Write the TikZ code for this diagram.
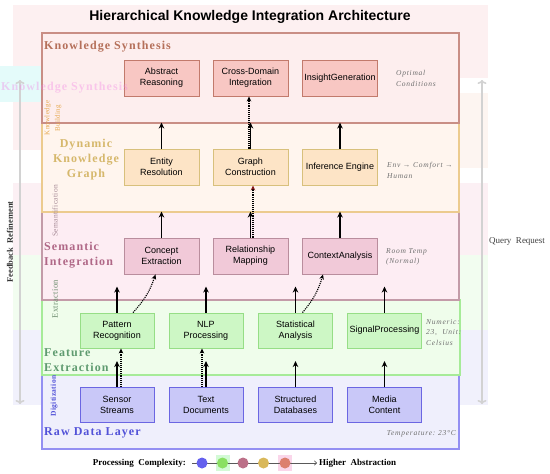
\documentclass[tikz,border=0pt]{standalone}
\usepackage{fontspec}
\setmainfont{Liberation Serif}
\newfontfamily\sansf{Liberation Sans}
\newfontfamily\layerf[LetterSpace=9]{Liberation Serif}
\newfontfamily\notef[LetterSpace=10]{Liberation Serif}
\newfontfamily\sidef[LetterSpace=4]{Liberation Serif}
\usetikzlibrary{arrows.meta,calc}
\definecolor{bandpink}{HTML}{FDF0F1}
\definecolor{bandpeach}{HTML}{FDF5F1}
\definecolor{bandpinkb}{HTML}{FCF0F4}
\definecolor{bandgreen}{HTML}{F2FDF0}
\definecolor{bandlav}{HTML}{F1F1FC}
\definecolor{ghostcyan}{HTML}{E4FBFA}
\definecolor{ghostmag}{HTML}{F27AE4}
\definecolor{ksf}{HTML}{FDEEEE}
\definecolor{ksb}{HTML}{C98E85}
\definecolor{kst}{HTML}{B5705A}
\definecolor{ksnf}{HTML}{F8C7C3}
\definecolor{ksnb}{HTML}{C27A6C}
\definecolor{dkf}{HTML}{FFF5EE}
\definecolor{dkb}{HTML}{ECCB8E}
\definecolor{dkt}{HTML}{D6B86C}
\definecolor{dknf}{HTML}{FDE4C6}
\definecolor{dknb}{HTML}{D8C07C}
\definecolor{sif}{HTML}{FDEDF3}
\definecolor{sib}{HTML}{C39BA8}
\definecolor{sit}{HTML}{B06887}
\definecolor{sinf}{HTML}{F1C9D8}
\definecolor{sinb}{HTML}{B98D9D}
\definecolor{fef}{HTML}{EFFDEB}
\definecolor{feb}{HTML}{A6EB98}
\definecolor{fet}{HTML}{5F9B70}
\definecolor{fenf}{HTML}{CDF7C5}
\definecolor{fenb}{HTML}{96DE86}
\definecolor{rdf}{HTML}{EFEFFC}
\definecolor{rdb}{HTML}{938FF2}
\definecolor{rdt}{HTML}{5252D8}
\definecolor{rdnf}{HTML}{C9C8F8}
\definecolor{rdnb}{HTML}{6B66E2}
\definecolor{kbt}{HTML}{E5A74D}
\definecolor{semt}{HTML}{A68A96}
\definecolor{extt}{HTML}{6F8F70}
\definecolor{notec}{HTML}{707070}
\definecolor{sidegray}{HTML}{D2D2D2}
\definecolor{darkred}{HTML}{8A1C1C}
\definecolor{lgreen}{HTML}{D3FAD6}
\definecolor{lpink}{HTML}{FAD6EA}
\definecolor{dotblue}{HTML}{6460EE}
\definecolor{dotgreen}{HTML}{8AE062}
\definecolor{dotmauve}{HTML}{BC7088}
\definecolor{dotgold}{HTML}{D9B85A}
\definecolor{dotsalmon}{HTML}{DC7F6E}
\begin{document}
\begin{tikzpicture}[x=1pt,y=-1pt,
  layer/.style={draw,line width=1.4pt,minimum width=417pt,inner sep=0pt},
  nbox/.style={draw,line width=0.9pt,minimum width=75pt,minimum height=36pt,inner sep=1pt,align=center,font=\sansf\fontsize{9}{11}\selectfont},
  lbox/.style={nbox,minimum width=74pt,minimum height=35pt},
  ltitle/.style={inner sep=0pt,font=\layerf\bfseries\fontsize{12}{15}\selectfont},
  sidelab/.style={rotate=90,inner sep=0pt,align=center,font=\sidef\fontsize{7.5}{10}\selectfont},
  note/.style={inner sep=0pt,align=left,text=notec,font=\notef\itshape\fontsize{7.5}{10.5}\selectfont},
  uparr/.style={line width=1.5pt,-{Stealth[length=6pt,width=5.5pt]}},
  dotarr/.style={line width=1.1pt,densely dotted,-{Stealth[length=5pt,width=4.5pt]}},
  grayarr/.style={line width=1.6pt,draw=sidegray,{To[length=4pt,width=9pt]}-{To[length=4pt,width=9pt]}},
  dot/.style={circle,minimum size=11pt,inner sep=0pt}
]
\useasboundingbox (0,0) rectangle (550,474);
% background bands
\fill[bandpink] (13,5) rectangle (488,78);
\fill[bandpink] (13,78) rectangle (42,150);
\fill[ghostcyan] (0,66) rectangle (42,102);
\fill[bandpeach] (42,93) rectangle (488,168);
\fill[bandpinkb] (13,183) rectangle (488,255);
\fill[bandgreen] (13,255) rectangle (488,330);
\fill[bandlav] (13,330) rectangle (488,405);
% title
\node[font=\sansf\bfseries\fontsize{14}{16}\selectfont] (title) at (250,17) {Hierarchical Knowledge Integration Architecture};
% layers (bottom first so upper borders lie on top)
\node[layer,draw=rdb,fill=rdf,minimum height=74pt] (rd) at (250.5,412) {};
\node[layer,draw=feb,fill=fef,minimum height=75pt,minimum width=418pt] (fe) at (251,337.5) {};
\node[layer,draw=sib,fill=sif,minimum height=88pt] (si) at (250.5,256) {};
\node[layer,draw=dkb,fill=dkf,minimum height=89pt] (dk) at (250.5,167.5) {};
\node[layer,draw=ksb,fill=ksf,minimum height=90pt] (ks) at (250.5,78) {};
% layer titles
\node[ltitle,text=kst,anchor=west] (kstitle) at (44,47) {Knowledge Synthesis};
\node[ltitle,text=dkt,align=center] (dktitle) at (86,160) {Dynamic\\Knowledge\\Graph};
\node[ltitle,text=sit,anchor=west,align=left] (sititle) at (44,255) {Semantic\\Integration};
\node[ltitle,text=fet,anchor=west,align=left] (fetitle) at (44,360.5) {Feature\\Extraction};
\node[ltitle,text=rdt,anchor=west] (rdtitle) at (44,433) {Raw Data Layer};
% side labels
\node[sidelab,text=kbt,font=\sidef\fontsize{7}{10.5}\selectfont] (kb) at (53,118) {Knowledge\\Building};
\node[sidelab,text=semt] (sem) at (55,211) {Semantification};
\node[sidelab,text=extt,font=\sidef\fontsize{8.5}{10}\selectfont] (ext) at (55,299) {Extraction};
\node[sidelab,text=rdt,font=\sidef\bfseries\fontsize{7.5}{10}\selectfont] (dig) at (54,396) {Digitization};
% KS nodes
\node[nbox,fill=ksnf,draw=ksnb] (ar) at (161.5,78) {Abstract\\Reasoning};
\node[nbox,fill=ksnf,draw=ksnb] (cdi) at (250.5,78) {Cross-Domain\\Integration};
\node[nbox,fill=ksnf,draw=ksnb] (ig) at (340,78) {InsightGeneration};
% DKG nodes
\node[nbox,fill=dknf,draw=dknb] (er) at (161.5,167) {Entity\\Resolution};
\node[nbox,fill=dknf,draw=dknb] (gc) at (250.5,167) {Graph\\Construction};
\node[nbox,fill=dknf,draw=dknb] (ie) at (340,167) {Inference Engine};
% SI nodes
\node[nbox,fill=sinf,draw=sinb] (cex) at (161.5,256) {Concept\\Extraction};
\node[nbox,fill=sinf,draw=sinb] (rm) at (250.5,256) {Relationship\\Mapping};
\node[nbox,fill=sinf,draw=sinb] (ca) at (340,256) {ContextAnalysis};
% FE nodes
\node[lbox,fill=fenf,draw=fenb] (pr) at (117,330.5) {Pattern\\Recognition};
\node[lbox,fill=fenf,draw=fenb] (nlp) at (206,330.5) {NLP\\Processing};
\node[lbox,fill=fenf,draw=fenb] (sa) at (295.5,330.5) {Statistical\\Analysis};
\node[lbox,fill=fenf,draw=fenb] (sp) at (384.5,330.5) {SignalProcessing};
% RD nodes
\node[lbox,fill=rdnf,draw=rdnb] (ss) at (117,405) {Sensor\\Streams};
\node[lbox,fill=rdnf,draw=rdnb] (td) at (206,405) {Text\\Documents};
\node[lbox,fill=rdnf,draw=rdnb] (sdb) at (295.5,405) {Structured\\Databases};
\node[lbox,fill=rdnf,draw=rdnb] (mc) at (384.5,405) {Media\\Content};
% notes
\node[note,anchor=west] (n1) at (396,78.5) {Optimal\\Conditions};
\node[note,anchor=west] (n2) at (387,170.5) {Env → Comfort →\\Human};
\node[note,anchor=west] (n3) at (386,257) {Room Temp\\(Normal)};
\node[note,anchor=west] (n4) at (426,332.5) {Numeric:\\23,\ \ Unit:\\Celsius};
\node[note,anchor=east] (n5) at (456,434) {Temperature:\ 23°C};
% solid upward arrows
\foreach \n in {er,gc,ie,cex,rm,ca,pr,nlp,sa,sp,ss,td,sdb,mc}{
  \draw[uparr] (\n.north) -- ++(0,-26);
}
% dotted arrows
\draw[dotarr] ($(gc.north)+(-1.5,0)$) -- ($(cdi.south)+(-1.5,0)$);
\draw[line width=1.1pt,densely dotted,-{Stealth[length=5pt,width=4.5pt,color=darkred]}] ($(rm.north)+(2.5,0)$) -- ($(gc.south)+(2.5,0)$);
\draw[dotarr] ($(pr.north)+(16,0)$) to[bend right=12] ($(cex.south)+(-6,0)$);
\draw[dotarr] ($(sa.north)+(7,0)$) to[bend right=12] ($(ca.south)+(-17,0)$);
\draw[dotarr] ($(ss.north)+(4,0)$) -- ($(pr.south)+(4,0)$);
\draw[dotarr] ($(td.north)+(-4,0)$) -- ($(nlp.south)+(-4,0)$);
% side arrows
\coordinate (fbt) at (20,80);
\coordinate (fbb) at (20,404);
\coordinate (qrt) at (482,80);
\coordinate (qrb) at (482,404);
\draw[grayarr] (fbb) -- (fbt);
\draw[grayarr] (qrb) -- (qrt);
\node[rotate=90,font=\bfseries\fontsize{8.5}{10}\selectfont,text=black!80] (fb) at (10,242) {Feedback\ \ Refinement};
\node[font=\fontsize{9}{10}\selectfont,text=black!75] (qr) at (517,241) {Query\ \ Request};
% legend
\fill[lgreen] (215.5,455) rectangle (229.5,471);
\fill[lpink] (278,455) rectangle (292,471);
\coordinate (ls) at (192,463);
\coordinate (le) at (317,463);
\node[font=\bfseries\fontsize{9}{10}\selectfont,anchor=east,inner sep=0pt] (lt) at (186,463) {Processing\ \ Complexity:};
\draw[black!65,line width=0.6pt,-{To[length=3pt,width=5pt]}] (ls) -- (le);
\node[dot,fill=dotblue] (c1) at (202,463) {};
\node[dot,fill=dotgreen] (c2) at (222.5,463) {};
\node[dot,fill=dotmauve] (c3) at (243,463) {};
\node[dot,fill=dotgold] (c4) at (263.5,463) {};
\node[dot,fill=dotsalmon] (c5) at (285,463) {};
\node[font=\bfseries\fontsize{9}{10}\selectfont,anchor=west,inner sep=0pt] (lh) at (319,463) {Higher\ \ Abstraction};
% ghost text
\node[ltitle,text=ghostmag,opacity=0.35,anchor=west] (gh1) at (1,88) {Knowledge Synthesis};
\end{tikzpicture}
\end{document}
